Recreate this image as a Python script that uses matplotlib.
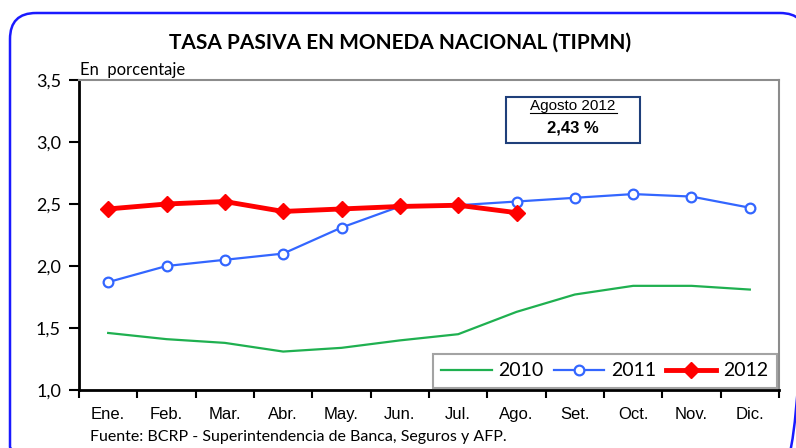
import matplotlib.pyplot as plt
from matplotlib.patches import FancyBboxPatch, Rectangle

months = ['Ene.', 'Feb.', 'Mar.', 'Abr.', 'May.', 'Jun.', 'Jul.', 'Ago.', 'Set.', 'Oct.', 'Nov.', 'Dic.']
y2010 = [1.46, 1.41, 1.38, 1.31, 1.34, 1.40, 1.45, 1.63, 1.77, 1.84, 1.84, 1.81]
y2011 = [1.87, 2.00, 2.05, 2.10, 2.31, 2.48, 2.49, 2.52, 2.55, 2.58, 2.56, 2.47]
y2012 = [2.46, 2.50, 2.52, 2.44, 2.46, 2.48, 2.49, 2.43]
yticks = [1.0, 1.5, 2.0, 2.5, 3.0, 3.5]

W, H = 796, 448
fig = plt.figure(figsize=(W / 100, H / 100), dpi=100)

# background axes in pixel units for the rounded blue frame
bg = fig.add_axes([0, 0, 1, 1])
bg.set_xlim(0, W)
bg.set_ylim(H, 0)
bg.axis('off')
bg.add_patch(FancyBboxPatch((10, 13), 796, 460, boxstyle='round,pad=0,rounding_size=26',
                            fill=False, edgecolor='#1a1aff', linewidth=1.8))

ax = fig.add_axes([79 / W, 58 / H, 700 / W, 310 / H])
x = list(range(len(months)))

ax.plot(x, y2010, color='#1fb050', lw=1.6, label='2010')
ax.plot(x, y2011, color='#3366ff', lw=1.6, marker='o', markersize=7,
        markerfacecolor='white', markeredgecolor='#3366ff', markeredgewidth=1.6, label='2011')
ax.plot(x[:len(y2012)], y2012, color='#ff0000', lw=3.5, marker='D', markersize=8,
        markerfacecolor='#ff0000', markeredgecolor='#ff0000', label='2012')

ax.set_xlim(-0.5, 11.5)
ax.set_ylim(1.0, 3.5)
ax.set_yticks(yticks)
ax.set_yticklabels([f'{v:.1f}'.replace('.', ',') for v in yticks], fontsize=13, family='Lato')
ax.set_xticks([i - 0.5 for i in range(13)])
ax.set_xticklabels([])
ax.set_xticks(x, minor=True)
ax.set_xticklabels(months, minor=True, fontsize=12, family='Liberation Sans')
ax.tick_params(axis='x', which='minor', length=0, pad=12)
ax.tick_params(axis='x', which='major', length=6, width=1.5, direction='out')
ax.tick_params(axis='y', length=7, width=1.5, direction='out', pad=6)

for s in ['left', 'bottom']:
    ax.spines[s].set_linewidth(2)
    ax.spines[s].set_color('black')
for s in ['top', 'right']:
    ax.spines[s].set_linewidth(1.5)
    ax.spines[s].set_color('#8c8c8c')

leg = ax.legend(loc='lower right', ncol=3, frameon=True, fancybox=False,
                edgecolor='#8c8c8c', handlelength=2.6, borderaxespad=0.1, borderpad=0.45,
                prop={'family': 'Lato', 'size': 14}, columnspacing=0.5, handletextpad=0.35)
leg.get_frame().set_linewidth(1.5)

# annotation box "Agosto 2012"
ax.add_patch(Rectangle((6.82, 2.995), 2.3, 0.37, facecolor='white',
                       edgecolor='#1f3f7a', lw=1.5, zorder=5))
ax.text(7.97, 3.29, 'Agosto 2012', ha='center', va='center', fontsize=11,
        family='Liberation Sans', zorder=6)
ax.plot([7.23, 8.72], [3.232, 3.232], color='black', lw=0.8, zorder=6)
ax.text(7.97, 3.11, '2,43 %', ha='center', va='center', fontsize=12,
        family='Liberation Sans', fontweight='bold', zorder=6)

fig.text(400 / W, 1 - 43 / H, 'TASA PASIVA EN MONEDA NACIONAL (TIPMN)', ha='center', va='center',
         fontsize=15, fontweight='bold', family='Lato')
fig.text(80 / W, 1 - 70 / H, 'En  porcentaje', ha='left', va='center', fontsize=12, family='Lato')
fig.text(90 / W, 1 - 437 / H, 'Fuente: BCRP - Superintendencia de Banca, Seguros y AFP.',
         ha='left', va='center', fontsize=11.5, family='Lato')

fig.savefig('out.png', dpi=100)
